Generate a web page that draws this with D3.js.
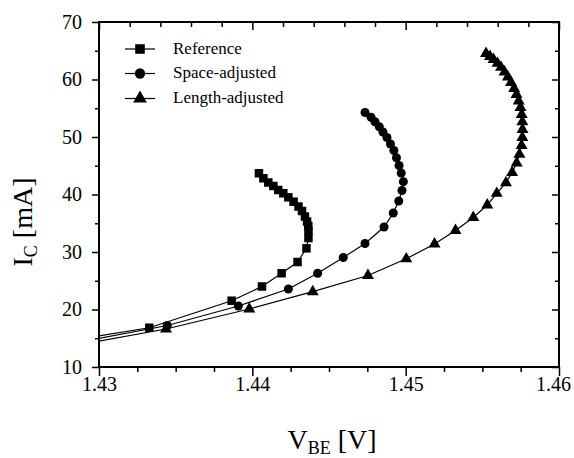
<!DOCTYPE html>
<html>
<head>
<meta charset="utf-8">
<script src="https://cdn.jsdelivr.net/npm/d3@7"></script>
<style>
  html, body { margin: 0; padding: 0; background: #fff; }
  svg { display: block; }
  svg text { font-family: "Liberation Serif", "Times New Roman", serif !important; fill: #000; }
</style>
</head>
<body>
<svg id="chart" width="574" height="458" font-family="Liberation Serif, serif"></svg>
<script>
// ---- data ----
const seriesNames = ["Reference", "Space-adjusted", "Length-adjusted"];

const refV = [1.428, 1.43328, 1.43865, 1.44063, 1.44191, 1.44295, 1.44353, 1.44366, 1.44366, 1.44365,
  1.44357, 1.44343, 1.44324, 1.44301, 1.44269, 1.44235, 1.44202, 1.44169, 1.44137, 1.44104, 1.44072, 1.44043];
const refI = [14.52, 16.83, 21.53, 24.0, 26.30, 28.26, 30.64, 32.43, 33.65, 34.52,
  35.30, 36.17, 37.13, 37.91, 38.75, 39.51, 40.21, 40.78, 41.48, 42.09, 42.82, 43.69];

const spaceV = [1.428, 1.43445, 1.43909, 1.44235, 1.44426, 1.44593, 1.44735, 1.44859, 1.44919, 1.44955,
  1.44976, 1.44985, 1.44971, 1.44957, 1.44940, 1.44923, 1.44901, 1.44878, 1.44852, 1.44828, 1.44800, 1.44774, 1.44735];
const spaceI = [13.99, 17.22, 20.61, 23.57, 26.30, 29.04, 31.48, 34.35, 36.78, 38.87,
  40.70, 42.23, 43.74, 45.04, 46.40, 47.65, 48.78, 49.91, 50.87, 51.79, 52.66, 53.43, 54.26];

const lengthV = [1.428, 1.43437, 1.43980, 1.44394, 1.44754, 1.45004, 1.45188, 1.45325, 1.45441, 1.45532,
  1.45594, 1.45654, 1.45694, 1.45724, 1.45742, 1.45756, 1.45761, 1.45762, 1.45761, 1.45757,
  1.45749, 1.45737, 1.45723, 1.45707, 1.45687, 1.45667, 1.45645, 1.45622, 1.45599, 1.45573, 1.45550, 1.45524];
const lengthI = [13.56, 16.61, 20.09, 23.10, 25.91, 28.82, 31.39, 33.74, 36.00, 38.17,
  40.21, 42.05, 43.83, 45.48, 47.01, 48.52, 49.91, 51.30, 52.66, 53.91,
  55.13, 56.26, 57.39, 58.43, 59.48, 60.43, 61.30, 62.12, 62.82, 63.48, 64.00, 64.52];

const xMajorTicks = [1.43, 1.44, 1.45, 1.46];
const xMinorBottom = [1.4325, 1.435, 1.4375, 1.4425, 1.445, 1.4475, 1.4525, 1.455, 1.4575];
const xMinorTop = [1.432, 1.434, 1.436, 1.438, 1.442, 1.444, 1.446, 1.448, 1.452, 1.454, 1.456, 1.458];
const yMajorTicks = [10, 20, 30, 40, 50, 60, 70];
const yMinorTicks = [15, 25, 35, 45, 55, 65];

// ---- layout ----
const FONT = "Liberation Serif, Times New Roman, serif";
const svg = d3.select("#chart");
const L = 99, R = 559, T = 22, B = 367;
const x = d3.scaleLinear().domain([1.43, 1.46]).range([L, R]);
const y = d3.scaleLinear().domain([10, 70]).range([B, T]);

svg.append("defs").append("clipPath").attr("id", "plotclip")
  .append("rect").attr("x", L).attr("y", T).attr("width", R - L).attr("height", B - T);

// ---- axes ----
function styleAxis(g) {
  g.attr("font-family", FONT).attr("font-size", 20);
  g.select(".domain").remove();
  g.selectAll("line").attr("stroke", "#000").attr("stroke-width", 1.5);
  g.selectAll("text").attr("font-family", FONT).attr("font-size", 20).attr("fill", "#000");
}
// bottom
const xLab = svg.append("g").attr("transform", `translate(0,${B})`)
  .call(d3.axisBottom(x).tickValues(xMajorTicks).tickSize(9).tickPadding(1).tickFormat(d3.format(".2f")))
  .call(styleAxis);
// keep the last label inside the picture, as in the reference
xLab.selectAll(".tick text").filter(d => d === 1.46).attr("dx", -6);
svg.append("g").attr("transform", `translate(0,${B})`)
  .call(d3.axisBottom(x).tickValues(xMinorBottom).tickSize(5).tickFormat(""))
  .call(styleAxis);
// top (inward)
svg.append("g").attr("transform", `translate(0,${T})`)
  .call(d3.axisBottom(x).tickValues(xMajorTicks).tickSize(8).tickFormat(""))
  .call(styleAxis);
svg.append("g").attr("transform", `translate(0,${T})`)
  .call(d3.axisBottom(x).tickValues(xMinorTop).tickSize(5).tickFormat(""))
  .call(styleAxis);
// left
svg.append("g").attr("transform", `translate(${L},0)`)
  .call(d3.axisLeft(y).tickValues(yMajorTicks).tickSize(7).tickPadding(10).tickFormat(d3.format("d")))
  .call(styleAxis);
svg.append("g").attr("transform", `translate(${L},0)`)
  .call(d3.axisLeft(y).tickValues(yMinorTicks).tickSize(4).tickFormat(""))
  .call(styleAxis);
// right (inward)
svg.append("g").attr("transform", `translate(${R},0)`)
  .call(d3.axisLeft(y).tickValues(yMajorTicks).tickSize(7).tickFormat(""))
  .call(styleAxis);
svg.append("g").attr("transform", `translate(${R},0)`)
  .call(d3.axisLeft(y).tickValues(yMinorTicks).tickSize(4).tickFormat(""))
  .call(styleAxis);

// frame
svg.append("rect").attr("x", L).attr("y", T).attr("width", R - L).attr("height", B - T)
  .attr("fill", "none").attr("stroke", "#000").attr("stroke-width", 2);

// ---- series ----
const symbols = [d3.symbolSquare, d3.symbolCircle, d3.symbolTriangle];
const symSizes = [72, 64, 62];
const series = [
  { name: seriesNames[0], v: refV, i: refI },
  { name: seriesNames[1], v: spaceV, i: spaceI },
  { name: seriesNames[2], v: lengthV, i: lengthI }
];
const line = d3.line().x(d => x(d[0])).y(d => y(d[1]));

series.forEach((s, k) => {
  const pts = s.v.map((v, j) => [v, s.i[j]]);
  svg.append("path").datum(pts).attr("d", line)
    .attr("fill", "none").attr("stroke", "#000").attr("stroke-width", 1.2)
    .attr("clip-path", "url(#plotclip)");
  svg.append("g").selectAll("path").data(pts.filter(p => p[0] >= 1.43)).join("path")
    .attr("transform", p => `translate(${x(p[0])},${y(p[1])})`)
    .attr("d", d3.symbol().type(symbols[k]).size(symSizes[k]))
    .attr("fill", "#000");
});

// ---- legend ----
const legRows = [49, 73.5, 98.5];
series.forEach((s, k) => {
  const g = svg.append("g").attr("transform", `translate(0,${legRows[k]})`);
  g.append("line").attr("x1", 125).attr("x2", 155).attr("y1", 0).attr("y2", 0)
    .attr("stroke", "#000").attr("stroke-width", 1.2);
  g.append("path").attr("transform", "translate(140,0)")
    .attr("d", d3.symbol().type(symbols[k]).size(symSizes[k] + 20)).attr("fill", "#000");
  g.append("text").attr("x", 173).attr("y", 4.5)
    .attr("font-family", FONT).attr("font-size", 17).text(s.name);
});

// ---- axis titles ----
const xt = svg.append("text").attr("x", 332).attr("y", 449).attr("text-anchor", "middle")
  .attr("font-family", FONT).attr("font-size", 28);
xt.append("tspan").text("V");
xt.append("tspan").attr("dy", 5).attr("font-size", 18).text("BE");
xt.append("tspan").attr("dy", -5).text(" [V]");

const yt = svg.append("text").attr("transform", "translate(32,222) rotate(-90)")
  .attr("text-anchor", "middle").attr("font-family", FONT).attr("font-size", 28);
yt.append("tspan").text("I");
yt.append("tspan").attr("dy", 5).attr("font-size", 18).text("C");
yt.append("tspan").attr("dy", -5).text(" [mA]");
</script>
</body>
</html>
